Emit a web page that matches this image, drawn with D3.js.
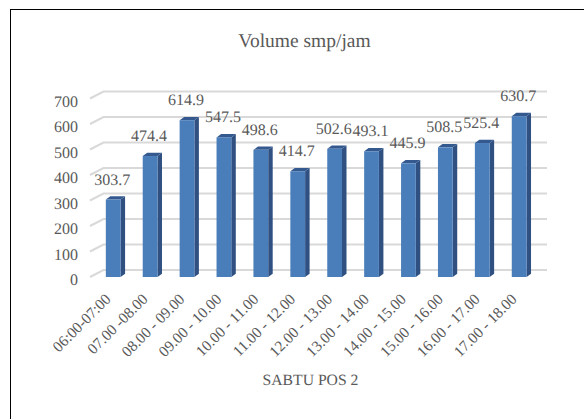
<!DOCTYPE html>
<html>
<head>
<meta charset="utf-8">
<script src="https://cdn.jsdelivr.net/npm/d3@7"></script>
<style>
  html, body { margin: 0; padding: 0; background: #fff; }
  svg { display: block; }
  text { font-family: "Liberation Serif", serif; fill: #595959; text-rendering: geometricPrecision; }
</style>
</head>
<body>
<svg id="chart" width="584" height="419"></svg>
<script>
const categories = ['06:00-07:00', '07.00 -08.00', '08.00 - 09.00', '09.00 - 10.00', '10.00 - 11.00', '11.00 - 12.00',
  '12.00 - 13.00', '13.00 - 14.00', '14.00 - 15.00', '15.00 - 16.00', '16.00 - 17.00', '17.00 - 18.00'];
const volumes = [303.7, 474.4, 614.9, 547.5, 498.6, 414.7, 502.6, 493.1, 445.9, 508.5, 525.4, 630.7];
const yTicks = [0, 100, 200, 300, 400, 500, 600, 700];

const svg = d3.select('#chart');

// 3d depth of the chart floor and of the bars
const wallDx = 13.5, wallDy = 7;
const barDx = 4.5, barDy = 3.3;

const x = d3.scaleBand().domain(categories).range([94.75, 537.6]).paddingInner(0.6).paddingOuter(0.3);
const y = d3.scaleLinear().domain([0, 700]).range([277, 98.5]);

// chart frame, cropped by the picture on the right and at the bottom
svg.append('rect')
  .attr('x', 10.5).attr('y', 9.5)
  .attr('width', 600).attr('height', 420)
  .attr('fill', '#fff').attr('stroke', '#000').attr('stroke-width', 1);

svg.append('text')
  .attr('x', 304.5).attr('y', 47)
  .attr('text-anchor', 'middle')
  .attr('font-size', 19.5)
  .text('Volume smp/jam');

// gridlines, front stub + back wall
const grid = svg.append('g').attr('fill', 'none').attr('stroke', '#d9d9d9').attr('stroke-width', 2);
grid.selectAll('path')
  .data(yTicks)
  .enter().append('path')
  .attr('d', d => `M90,${y(d)}L${90 + wallDx},${y(d) - wallDy}H547`);

// y axis labels
svg.append('g')
  .selectAll('text')
  .data(yTicks)
  .enter().append('text')
  .attr('x', 78)
  .attr('y', d => y(d) + 8)
  .attr('text-anchor', 'end')
  .attr('font-size', 16)
  .text(d => d);

// bars: side, top, then front
const bars = svg.append('g').selectAll('g')
  .data(categories.map((c, i) => ({ c, v: volumes[i] })))
  .enter().append('g');

bars.append('path')
  .attr('fill', '#2f5080')
  .attr('d', d => {
    const r = x(d.c) + x.bandwidth();
    return `M${r},${y(d.v)}l${barDx},${-barDy}V${y(0) - barDy}l${-barDx},${barDy}Z`;
  });

bars.append('path')
  .attr('fill', '#34598f')
  .attr('d', d => `M${x(d.c)},${y(d.v)}l${barDx},${-barDy}h${x.bandwidth()}l${-barDx},${barDy}Z`);

bars.append('rect')
  .attr('x', d => x(d.c))
  .attr('y', d => y(d.v))
  .attr('width', x.bandwidth())
  .attr('height', d => y(0) - y(d.v))
  .attr('fill', '#4a7ebb');

// value labels
svg.append('g')
  .selectAll('text')
  .data(categories.map((c, i) => ({ c, v: volumes[i] })))
  .enter().append('text')
  .attr('x', d => x(d.c) + x.bandwidth() / 2 - 1)
  .attr('y', d => y(d.v) - 15)
  .attr('text-anchor', 'middle')
  .attr('font-size', 16)
  .text(d => d.v.toFixed(1));

// category labels, rotated
svg.append('g')
  .selectAll('text')
  .data(categories)
  .enter().append('text')
  .attr('text-anchor', 'end')
  .attr('font-size', 15.3)
  .attr('transform', d => `translate(${x(d) + x.bandwidth() / 2 - 1.5},${300}) rotate(-45)`)
  .text(d => d);

svg.append('text')
  .attr('x', 310.5).attr('y', 385)
  .attr('text-anchor', 'middle')
  .attr('font-size', 15.7)
  .text('SABTU POS 2');
</script>
</body>
</html>
